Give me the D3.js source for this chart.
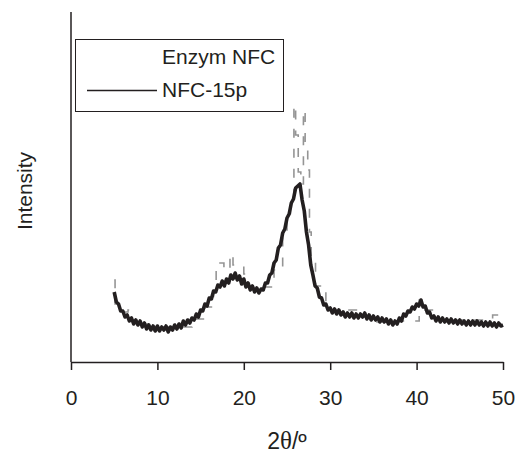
<!DOCTYPE html>
<html>
<head>
<meta charset="utf-8">
<script src="https://cdn.jsdelivr.net/npm/d3@7"></script>
<style>
  body { margin: 0; background: #fff; }
  svg { display: block; font-family: "Liberation Sans", Arial, sans-serif; }
</style>
</head>
<body>
<div id="chart"></div>
<script>
// XRD pattern, 2theta from 5 to 50 deg

// sampling grid of the black scan
const angleStart = 5;
const angleStep = 0.25;

// NFC-15p intensities (arbitrary units), one per 0.25 deg
const nfc15p = [
  70, 60, 58, 51,   51, 45, 47, 41,   44, 38, 42, 37,   41, 35, 39, 33,
  37, 32, 36, 31,   36, 31, 35, 32,   36, 30, 35, 32,   37, 33, 38, 34,
  41, 37, 42, 39,   44, 42, 48, 45,   52, 51, 58, 56,   64, 63, 71, 70,
  77, 75, 81, 76,   83, 79, 87, 83,   89, 82, 86, 78,   83, 75, 79, 72,
  76, 70, 74, 69,   73, 72, 79, 79,   87, 89, 99, 102,  114, 117, 129, 133,
  144, 148, 159, 163, 174, 176, 178, 162, 151, 130, 117, 97, 87, 76, 74, 65,
  64, 57, 58, 52,   54, 49, 53, 48,   52, 47, 50, 45,   49, 45, 49, 44,
  48, 44, 48, 45,   49, 43, 47, 42,   46, 42, 45, 40,   44, 40, 43, 38,
  42, 37, 41, 38,   44, 41, 48, 46,   51, 50, 55, 53,   58, 56, 62, 55,
  56, 49, 50, 44,   46, 41, 45, 40,   44, 40, 43, 39,   43, 39, 42, 38,
  42, 38, 41, 37,   41, 37, 41, 37,   41, 37, 40, 36,   40, 36, 40, 36,
  39, 35, 39, 36,   37
];

// Enzym NFC, coarser stepped scan (angle, intensity)
const enzymAngles = [5.0, 5.1, 5.6, 6.6, 6.9, 7.5, 9, 12, 14, 15.5, 16.5, 16.8, 17.7, 18.4,
  18.75, 20.0, 20.5, 22.5, 23.5, 24.5, 25.0, 25.4, 25.8, 26.0, 26.3, 26.6, 26.9, 27.1,
  27.4, 27.6, 27.8, 28.3, 29.5, 34, 35, 38, 40.3, 40.6, 42, 48.8, 49.7, 50];
const enzymValues = [82, 58, 50, 52, 42, 38, 35, 35, 43, 55, 70, 99, 92, 108,
  97, 88, 76, 75, 92, 126, 142, 156, 257, 227, 190, 178, 252, 215,
  192, 130, 105, 76, 52, 45, 40, 41, 62, 52, 42, 47, 37, 37];

const xTicks = [0, 10, 20, 30, 40, 50];
const seriesNames = ['Enzym NFC', 'NFC-15p'];

const ink = '#231f20';
const width = 520, height = 455;

const svg = d3.select('#chart').append('svg')
  .attr('width', width)
  .attr('height', height);

const x = d3.scaleLinear().domain([0, 50]).range([71, 503]);
const y = d3.scaleLinear().domain([0, 350]).range([362, 12]);

const blackData = nfc15p.map((v, i) => [angleStart + i * angleStep, v]);
const grayData = enzymAngles.map((a, i) => [a, enzymValues[i]]);

// gray stepped series underneath, broken into short dashes
svg.append('path')
  .datum(grayData)
  .attr('fill', 'none')
  .attr('stroke', '#959595')
  .attr('stroke-width', 1.6)
  .attr('stroke-dasharray', '9,11')
  .attr('d', d3.line().x(d => x(d[0])).y(d => y(d[1])).curve(d3.curveStepAfter));

// black noisy scan
svg.append('path')
  .datum(blackData)
  .attr('fill', 'none')
  .attr('stroke', ink)
  .attr('stroke-width', 3.6)
  .attr('stroke-linejoin', 'round')
  .attr('d', d3.line().x(d => x(d[0])).y(d => y(d[1])));

// x axis
const xAxis = svg.append('g')
  .attr('transform', `translate(0,${y(0)})`)
  .call(d3.axisBottom(x).tickValues(xTicks).tickSize(8).tickSizeOuter(0).tickPadding(20));
xAxis.select('.domain').attr('stroke', ink).attr('stroke-width', 1.5);
xAxis.selectAll('.tick line').attr('stroke', ink).attr('stroke-width', 1.5);
xAxis.selectAll('.tick text')
  .attr('fill', ink)
  .style('font-size', '21px')
  .style('font-family', '"Liberation Sans", Arial, sans-serif');

// y axis, no ticks
svg.append('line')
  .attr('x1', x(0)).attr('x2', x(0))
  .attr('y1', 12).attr('y2', y(0))
  .attr('stroke', ink).attr('stroke-width', 1.5);

// axis titles
const xTitle = svg.append('text')
  .attr('x', (x(0) + x(50)) / 2)
  .attr('y', 449)
  .attr('text-anchor', 'middle')
  .attr('fill', ink)
  .style('font-size', '23px');
xTitle.append('tspan').text('2');
xTitle.append('tspan').style('font-family', '"Liberation Serif", "DejaVu Serif", serif').style('font-size', '25px').text('θ');
xTitle.append('tspan').text('/º');

svg.append('text')
  .attr('transform', 'translate(32,191) rotate(-90)')
  .attr('text-anchor', 'middle')
  .attr('fill', ink)
  .style('font-size', '21px')
  .text('Intensity');

// legend
const legend = svg.append('g');
legend.append('rect')
  .attr('x', 75.5).attr('y', 39.5)
  .attr('width', 208).attr('height', 72)
  .attr('fill', '#fff')
  .attr('stroke', ink).attr('stroke-width', 1);
legend.append('line')
  .attr('x1', 87).attr('x2', 157)
  .attr('y1', 90.5).attr('y2', 90.5)
  .attr('stroke', ink).attr('stroke-width', 1.5);
legend.selectAll('text.lg')
  .data(seriesNames)
  .enter().append('text')
  .attr('class', 'lg')
  .attr('x', 162)
  .attr('y', (d, i) => 64 + i * 33)
  .attr('fill', ink)
  .style('font-size', '21px')
  .text(d => d);
</script>
</body>
</html>
